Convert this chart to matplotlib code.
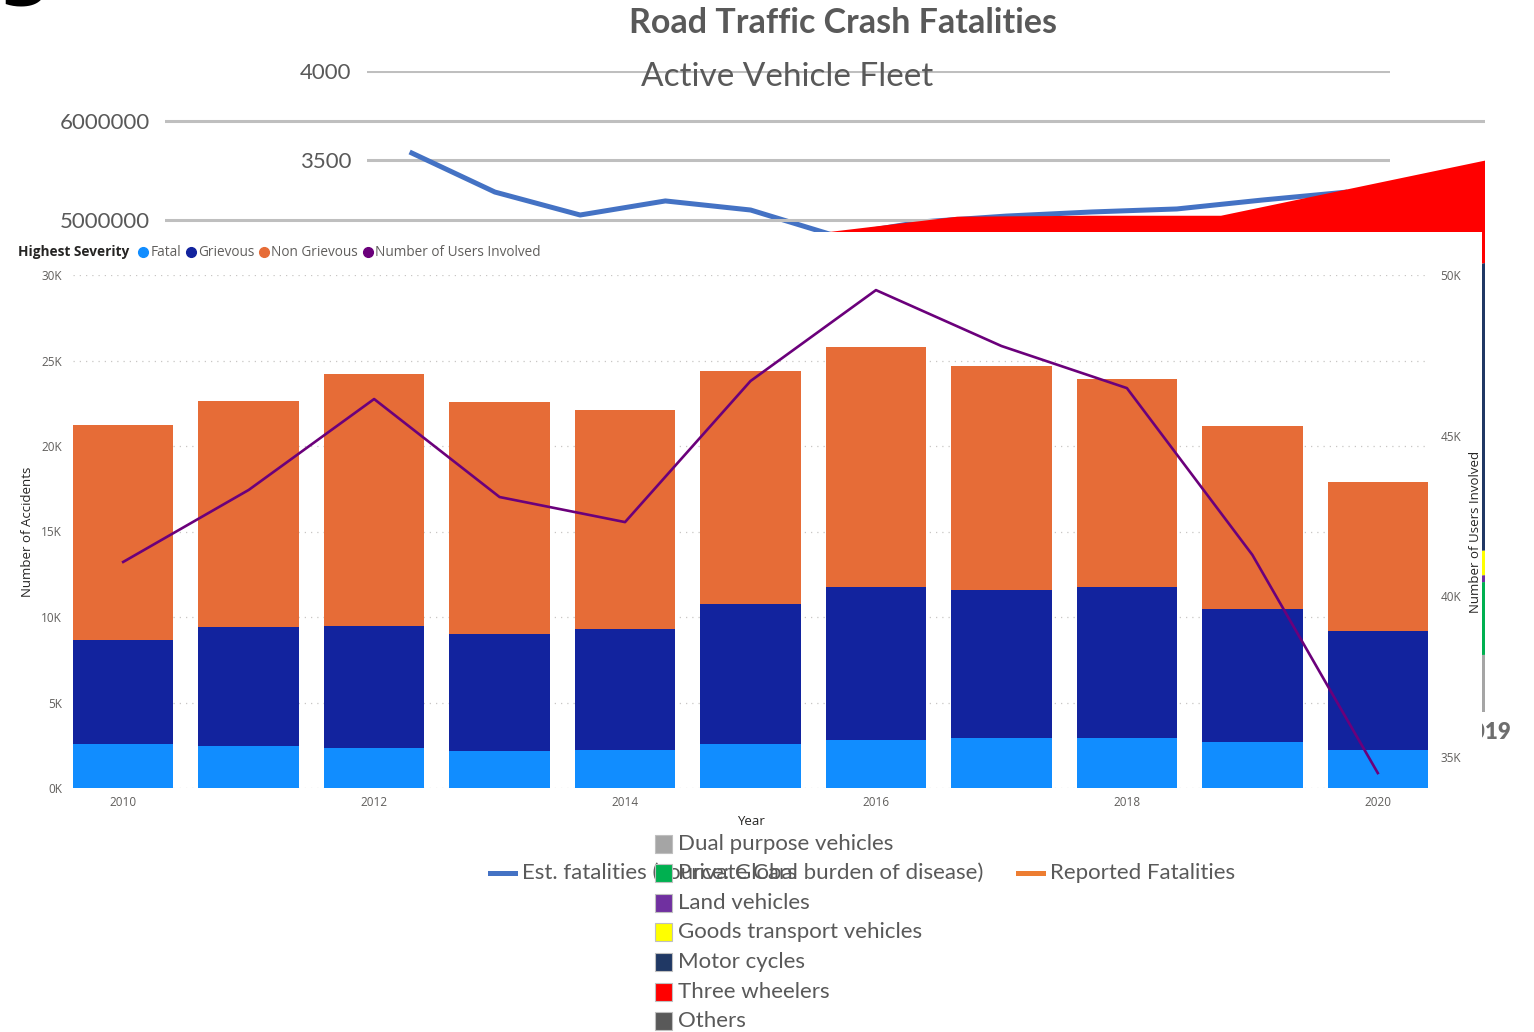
import numpy as np
import matplotlib
matplotlib.use("Agg")
import matplotlib.pyplot as plt
from matplotlib.patches import Rectangle
from matplotlib.lines import Line2D

W, H = 1534, 1032

# --- background chart: road traffic crash fatalities ---
fat_idx = list(range(12))
est_fatalities = [3545, 3320, 3191, 3270, 3219, 3073, 3152, 3185, 3208, 3225, 3275, 3320]

# --- background chart: active vehicle fleet (millions) ---
fleet_years = [2014, 2015, 2016, 2017, 2018, 2019]
dual_purpose = [0.45, 0.48, 0.50, 0.52, 0.55, 0.58]
private_cars = [0.60, 0.64, 0.66, 0.68, 0.71, 0.74]
land_vehicles = [0.06, 0.06, 0.06, 0.07, 0.07, 0.07]
goods_transport = [0.22, 0.23, 0.23, 0.24, 0.25, 0.25]
motor_cycles = [2.60, 2.66, 2.62, 2.55, 2.74, 2.92]
three_wheelers = [0.94, 0.96, 0.97, 0.98, 1.00, 1.04]
others = [0.0, 0.0, 0.0, 0.0, 0.0, 0.0]
fleet_names = ["Dual purpose vehicles", "Private Cars", "Land vehicles",
               "Goods transport vehicles", "Motor cycles", "Three wheelers", "Others"]
fleet_colors = ["#A5A5A5", "#00B050", "#7030A0", "#FFFF00", "#203864", "#FF0000", "#595959"]

# --- foreground Power BI chart ---
years = list(range(2010, 2021))
fatal = [2573, 2456, 2339, 2164, 2222, 2573, 2807, 2924, 2924, 2690, 2222]
grievous = [6082, 6959, 7135, 6842, 7076, 8187, 8947, 8655, 8830, 7778, 6959]
non_grievous = [12573, 13217, 14737, 13567, 12807, 13626, 14036, 13100, 12164, 10702, 8714]
users = [41070, 43310, 46140, 43090, 42310, 46700, 49530, 47790, 46480, 41290, 34500]
sev_names = ["Fatal", "Grievous", "Non Grievous", "Number of Users Involved"]
sev_colors = ["#118DFF", "#12239E", "#E66C37", "#6B007B"]

NARROW = ["Lato", "DejaVu Sans"]
PBI = ["Open Sans", "DejaVu Sans"]
GRAY = "#595959"


def box(x0, y0, x1, y1):
    return [x0 / W, 1 - y1 / H, (x1 - x0) / W, (y1 - y0) / H]


fig = plt.figure(figsize=(W / 100, H / 100), dpi=100)

# fatalities line chart (behind)
ax_fat = fig.add_axes(box(367, 71, 1390, 249), zorder=1)
ax_fat.patch.set_visible(False)
ax_fat.plot(fat_idx, est_fatalities, color="#4472C4", lw=3.6, solid_capstyle="butt")
ax_fat.set_xlim(-0.5, 11.5)
ax_fat.set_ylim(3000, 4000)
ax_fat.set_yticks([3500, 4000])
ax_fat.set_yticklabels(["3500", "4000"], family=NARROW)
ax_fat.set_xticks([])
ax_fat.grid(axis="y", color="#BFBFBF", lw=2.2)
ax_fat.set_axisbelow(True)
ax_fat.tick_params(axis="y", length=0, pad=11, labelcolor=GRAY, labelsize=16)
for s in ax_fat.spines.values():
    s.set_visible(False)

# vehicle fleet area chart
ax_fleet = fig.add_axes(box(165, 72, 1485, 712), zorder=2)
ax_fleet.patch.set_visible(False)
ax_fleet.stackplot(fleet_years, dual_purpose, private_cars, land_vehicles, goods_transport,
                   motor_cycles, three_wheelers, others, colors=fleet_colors, lw=0)
ax_fleet.set_xlim(2009, 2019)
ax_fleet.set_ylim(0, 6.5)
ax_fleet.set_yticks([5, 6])
ax_fleet.set_yticklabels(["5000000", "6000000"], family=NARROW)
ax_fleet.set_xticks([2019])
ax_fleet.set_xticklabels(["2019"], family=NARROW, fontweight="heavy")
ax_fleet.grid(axis="y", color="#BFBFBF", lw=2.2)
ax_fleet.set_axisbelow(True)
ax_fleet.tick_params(axis="y", length=0, pad=11, labelcolor=GRAY, labelsize=16)
ax_fleet.tick_params(axis="x", length=0, pad=7, labelcolor="#6E6E6E", labelsize=16)
for s in ax_fleet.spines.values():
    s.set_visible(False)

fig.text(843 / W, 1 - 23 / H, "Road Traffic Crash Fatalities", ha="center", va="center",
         fontsize=24.5, fontweight="bold", color=GRAY, family=NARROW, zorder=1)
fig.text(787 / W, 1 - 77 / H, "Active Vehicle Fleet", ha="center", va="center",
         fontsize=24, color=GRAY, family=NARROW, zorder=1)
fig.text(-4 / W, 1 + 10 / H, "g", ha="left", va="baseline", fontsize=56,
         fontweight="bold", color="black", zorder=1)

# white cover of the screenshot
ax_cover = fig.add_axes(box(0, 232, 1482, 832), zorder=3)
ax_cover.set_facecolor("white")
ax_cover.set_xticks([])
ax_cover.set_yticks([])
for s in ax_cover.spines.values():
    s.set_visible(False)

# Power BI combo chart
ax = fig.add_axes(box(73, 275, 1428, 788), zorder=4)
ax.patch.set_visible(False)
bottom2 = [f + g for f, g in zip(fatal, grievous)]
ax.bar(years, fatal, width=0.8, color=sev_colors[0])
ax.bar(years, grievous, width=0.8, bottom=fatal, color=sev_colors[1])
ax.bar(years, non_grievous, width=0.8, bottom=bottom2, color=sev_colors[2])
ax.set_xlim(2009.6, 2020.4)
ax.set_ylim(0, 30000)
ax.set_yticks(range(0, 30001, 5000))
ax.set_yticklabels([f"{v // 1000}K" for v in range(0, 30001, 5000)], family=PBI)
ax.set_xticks(range(2010, 2021, 2))
ax.set_xticklabels([str(y) for y in range(2010, 2021, 2)], family=PBI)
ax.grid(axis="y", color="#C8C6C4", lw=0.9, linestyle=(0, (1, 4)))
ax.set_axisbelow(True)
ax.tick_params(length=0, labelcolor="#605E5C", labelsize=8.5)
ax.tick_params(axis="y", pad=8)
ax.tick_params(axis="x", pad=6)
ax.set_xlabel("Year", fontsize=9.5, color="#252423", family=PBI, labelpad=4)
ax.set_ylabel("Number of Accidents", fontsize=9.5, color="#252423", family=PBI, labelpad=5)
for s in ax.spines.values():
    s.set_visible(False)

ax2 = ax.twinx()
ax2.set_zorder(5)
ax2.patch.set_visible(False)
ax2.plot(years, users, color=sev_colors[3], lw=1.9)
ax2.set_ylim(34035, 50000)
ax2.set_yticks(range(35000, 50001, 5000))
ax2.set_yticklabels([f"{v // 1000}K" for v in range(35000, 50001, 5000)], family=PBI)
ax2.tick_params(length=0, labelcolor="#605E5C", labelsize=8.5, pad=9)
ax2.set_ylabel("Number of Users Involved", fontsize=9.5, color="#252423", family=PBI,
               labelpad=6)
for s in ax2.spines.values():
    s.set_visible(False)

# Power BI legend row
renderer = fig.canvas.get_renderer()
ly = 1 - 252 / H
t = fig.text(18 / W, ly, "Highest Severity", fontsize=9.8, fontweight="bold",
             color="#252423", family=PBI, va="center", zorder=10)
x = t.get_window_extent(renderer).x1 + 9
for name, col in zip(sev_names, sev_colors):
    fig.add_artist(Line2D([(x + 5) / W], [ly], marker="o", ms=7, color=col,
                          transform=fig.transFigure, zorder=10))
    t = fig.text((x + 12) / W, ly, name, fontsize=9.8, color="#605E5C", family=PBI,
                 va="center", zorder=10)
    x = t.get_window_extent(renderer).x1 + 5

# background chart legends (bottom)
ry = 1 - 873 / H
fig.add_artist(Line2D([490 / W, 515 / W], [ry, ry], color="#4472C4", lw=3.6,
                      transform=fig.transFigure, zorder=10))
fig.text(522 / W, ry, "Est. fatalities (source: Global burden of disease)", fontsize=16,
         color=GRAY, family=NARROW, va="center", zorder=10)
fig.add_artist(Line2D([1018 / W, 1043 / W], [ry, ry], color="#ED7D31", lw=3.6,
                      transform=fig.transFigure, zorder=10))
fig.text(1050 / W, ry, "Reported Fatalities", fontsize=16, color=GRAY, family=NARROW,
         va="center", zorder=10)

leg_y = [844, 873, 903, 932, 962, 992, 1021]
for name, col, yy in zip(fleet_names, fleet_colors, leg_y):
    fig.add_artist(Rectangle((655 / W, 1 - (yy + 9) / H), 17 / W, 18 / H,
                             facecolor=col, edgecolor="#BFBFBF", lw=0.8,
                             transform=fig.transFigure, zorder=11))
    fig.text(678 / W, 1 - yy / H, name, fontsize=16, color=GRAY, family=NARROW,
             va="center", zorder=12)

fig.savefig("out.png", dpi=100)
